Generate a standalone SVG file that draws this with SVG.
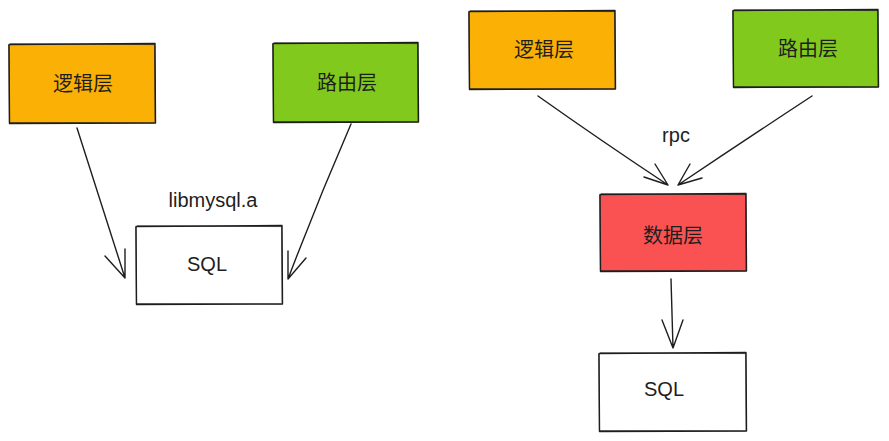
<svg xmlns="http://www.w3.org/2000/svg" width="889" height="441" viewBox="0 0 889 441">
<style>
.box{stroke:#1e1e1e;stroke-width:1.4;stroke-linejoin:round}
.sk{fill:none;stroke:#1e1e1e;stroke-width:0.9;opacity:0.8}
.t{font-family:"Liberation Sans","Noto Sans CJK SC",sans-serif;font-size:20px;fill:#1e1e1e;text-anchor:middle;dominant-baseline:central}
.c{fill:none;stroke:#1e1e1e;stroke-width:1.4;stroke-linecap:round;stroke-linejoin:round}
</style>
<rect width="889" height="441" fill="#ffffff"/>
<g id="logic-left">
<path class="box" fill="#fab005" d="M9 44.5 L155 43.5 L155.5 123 L9.5 123.5 Z"/>
<path class="sk" d="M10 43.8 L154.2 44.6 M154.6 44 L155.2 122.4 M154.8 122.8 L9.8 122.6 M9.4 122.8 L8.8 45"/>
<text class="t" x="83" y="84">逻辑层</text>
</g>
<g id="route-left">
<path class="box" fill="#82c91e" d="M273 43.5 L418 42.5 L418.5 122 L273.5 122.5 Z"/>
<path class="sk" d="M274 42.8 L417.2 43.6 M417.6 43 L418.2 121.4 M417.8 121.8 L273.8 121.6 M273.4 121.8 L272.8 44"/>
<text class="t" x="347" y="83">路由层</text>
</g>
<g id="sql-left">
<path class="box" fill="#ffffff" d="M136 226.5 L282 225.5 L282.5 304 L136.5 304.5 Z"/>
<path class="sk" d="M137 225.8 L281.2 226.6 M281.6 226 L282.2 303.4 M281.8 303.8 L136.8 303.6 M136.4 303.8 L135.8 227"/>
<text class="t" x="207" y="264">SQL</text>
</g>
<g id="label-libmysql">
<text class="t" x="213" y="200">libmysql.a</text>
</g>
<g id="logic-right">
<path class="box" fill="#fab005" d="M469 11.5 L615 10.5 L615.5 89 L469.5 89.5 Z"/>
<path class="sk" d="M470 10.8 L614.2 11.6 M614.6 11 L615.2 88.4 M614.8 88.8 L469.8 88.6 M469.4 88.8 L468.8 12"/>
<text class="t" x="544" y="50">逻辑层</text>
</g>
<g id="route-right">
<path class="box" fill="#82c91e" d="M733 10.5 L878 9.5 L878.5 87 L733.5 87.5 Z"/>
<path class="sk" d="M734 9.8 L877.2 10.6 M877.6 10 L878.2 86.4 M877.8 86.8 L733.8 86.6 M733.4 86.8 L732.8 11"/>
<text class="t" x="808" y="49">路由层</text>
</g>
<g id="data-right">
<path class="box" fill="#fa5252" d="M600 194.5 L746 193.5 L746.5 271 L600.5 271.5 Z"/>
<path class="sk" d="M601 193.8 L745.2 194.6 M745.6 194 L746.2 270.4 M745.8 270.8 L600.8 270.6 M600.4 270.8 L599.8 195"/>
<text class="t" x="673" y="236">数据层</text>
</g>
<g id="sql-right">
<path class="box" fill="#ffffff" d="M599 353.5 L746 352.5 L746.5 431 L599.5 431.5 Z"/>
<path class="sk" d="M600 352.8 L745.2 353.6 M745.6 353 L746.2 430.4 M745.8 430.8 L599.8 430.6 M599.4 430.8 L598.8 354"/>
<text class="t" x="664" y="389">SQL</text>
</g>
<g id="label-rpc">
<text class="t" x="676" y="135">rpc</text>
</g>
<g id="connectors">
<path class="c" d="M77 128 Q100 200 125 278 M105 256 L125 278 L125 249"/>
<path class="c" d="M351 124 Q318 200 288 279 M288 251 L288 279 L306 258"/>
<path class="c" d="M538 96 Q600 140 668 185 M644 177 L668 185 L655 164"/>
<path class="c" d="M812 96 Q745 140 678 185 M690 164 L678 185 L702 178"/>
<path class="c" d="M671 279 Q672 315 673 348 M662 320 L673 348 L683 320"/>
</g>
</svg>
